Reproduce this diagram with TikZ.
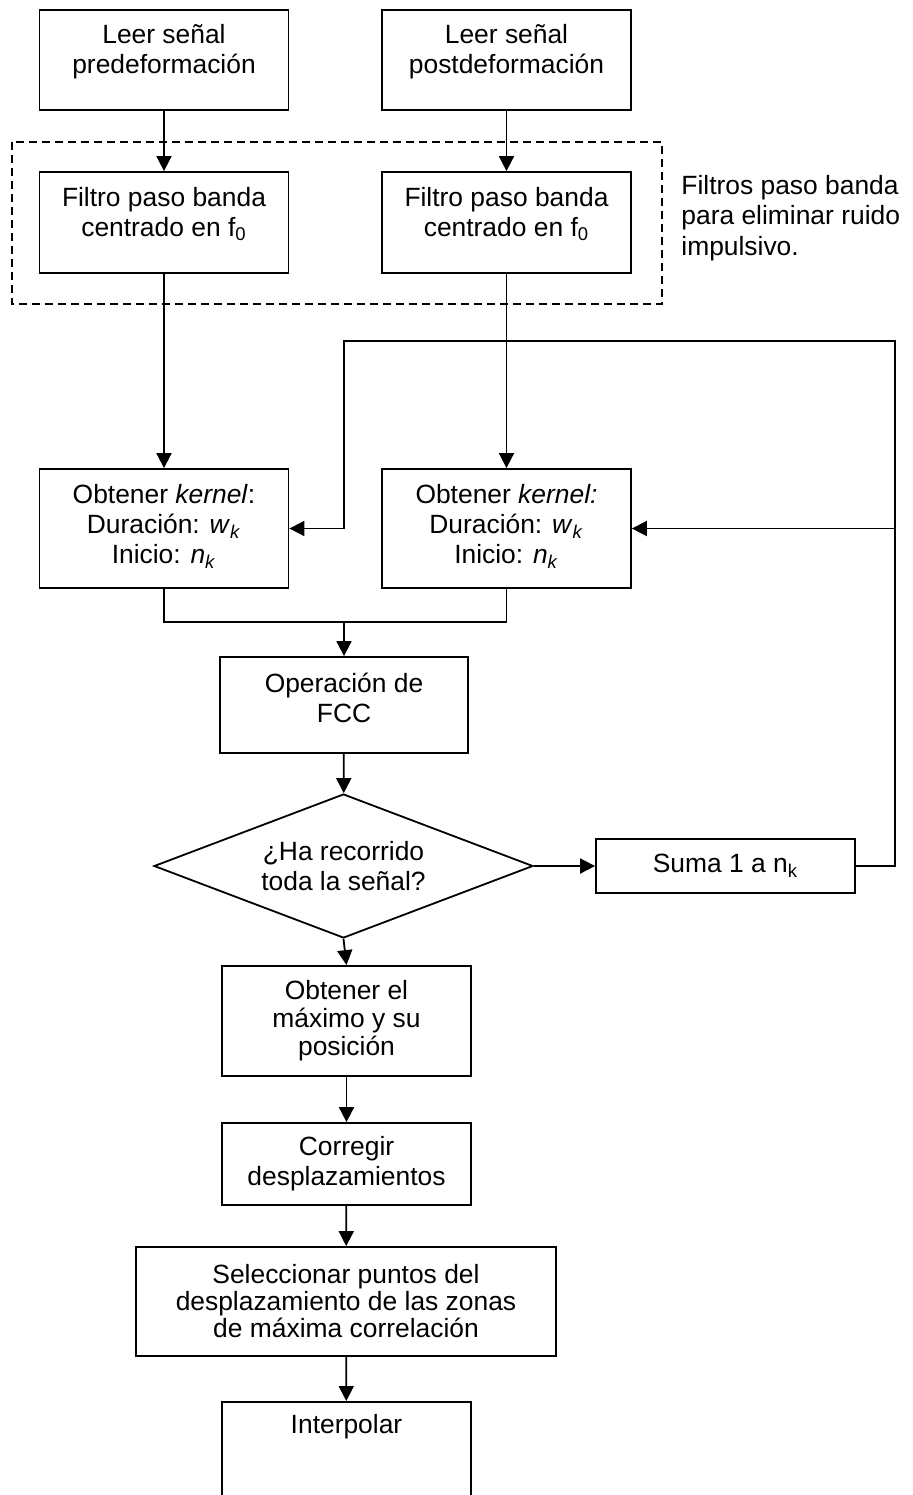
\documentclass[tikz,border=0pt]{standalone}
\usepackage{fontspec}
\setmainfont{Liberation Sans}
\usetikzlibrary{arrows.meta,shapes.geometric}
\begin{document}
\begin{tikzpicture}[x=0.5pt,y=-0.5pt,
  every node/.style={font=\fontsize{13.2}{15}\selectfont},
  box/.style={draw, line width=0.9pt, inner sep=0pt, minimum width=124.5pt},
  lab/.style={align=center, inner sep=0pt},
  link/.style={line width=0.9pt},
  arr/.style={link, -{Triangle[length=7.5pt,width=7.5pt]}},
  group/.style={line width=0.9pt, dash pattern=on 4pt off 2.5pt},
]
\useasboundingbox (0,0) rectangle (913,1495);

% reading the two signals
\node[box, minimum height=50pt, label={[lab,yshift=4pt]center:Leer señal\\predeformación}] (b1) at (164,60) {};
\node[box, minimum height=50pt, label={[lab,yshift=4pt]center:Leer señal\\postdeformación}] (b2) at (506.5,60) {};

% band-pass filters
\draw[group] (12,142) rectangle (662,304);
\node[box, minimum height=50.5pt, label={[lab,yshift=4.25pt]center:Filtro paso banda\\centrado en f\textsubscript{0}}] (f1) at (164,222.5) {};
\node[box, minimum height=50.5pt, label={[lab,yshift=4.25pt]center:Filtro paso banda\\centrado en f\textsubscript{0}}] (f2) at (506.5,222.5) {};
\node[lab, align=left, anchor=west, font=\fontsize{13.2}{15.25}\selectfont] (note) at (681,218)
  {Filtros paso banda\\para eliminar ruido\\impulsivo.};

% kernels
\node[box, minimum height=59.5pt, label={[lab,yshift=1.25pt]center:Obtener \textit{kernel}:\\Duración: \textit{w}\textsubscript{\textit{k}}\\Inicio: \textit{n}\textsubscript{\textit{k}}}] (k1) at (164,528.5) {};
\node[box, minimum height=59.5pt, label={[lab,yshift=1.25pt]center:Obtener \textit{kernel:}\\Duración: \textit{w}\textsubscript{\textit{k}}\\Inicio: \textit{n}\textsubscript{\textit{k}}}] (k2) at (506.5,528.5) {};

% correlation loop
\node[box, minimum width=124pt, minimum height=48pt, label={[lab,yshift=3.5pt]center:Operación de\\FCC}] (fcc) at (344,705) {};
\node[draw, line width=0.9pt, diamond, inner sep=0pt, minimum width=189.5pt, minimum height=72pt,
  label={[lab]center:¿Ha recorrido\\toda la señal?}] (dia) at (343.5,866) {};
\node[box, minimum width=129.5pt, minimum height=27pt, label={[lab]center:Suma 1 a n\textsubscript{k}}] (suma) at (725.5,866) {};

% final steps
\node[box, minimum height=55pt, label={[lab,yshift=0pt,font=\fontsize{13.2}{14}\selectfont]center:Obtener el\\máximo y su\\posición}] (obt) at (346.5,1021) {};
\node[box, minimum height=41pt, label={[lab]center:Corregir\\desplazamientos}] (corr) at (346.5,1164) {};
\node[box, minimum width=210pt, minimum height=54.5pt, label={[lab,font=\fontsize{13.2}{13.5}\selectfont]center:Seleccionar puntos del\\desplazamiento de las zonas\\de máxima correlación}] (sel) at (346,1301.5) {};
\node[box, minimum height=60pt, anchor=north, label={[lab,yshift=17.5pt]center:Interpolar}] (interp) at (346.5,1401) {};

% connectors
\draw[arr] (b1) -- (f1);
\draw[arr] (b2) -- (f2);
\draw[arr] (f1) -- (k1);
\draw[arr] (f2) -- (k2);

\coordinate (m) at (344,622);
\draw[link] (k1.south) |- (m);
\draw[link] (k2.south) |- (m);
\draw[arr] (m) -- (fcc.north);
\draw[arr] (fcc) -- (dia);
\draw[arr] (dia.east) -- (suma.west);

\coordinate (rt) at (895,341);
\coordinate (lt) at (344,341);
\coordinate (lk) at (344,528.5);
\coordinate (rk) at (895,528.5);
\draw[link] (suma.east) -| (rt) -- (lt) -- (lk);
\draw[arr] (lk) -- (k1.east);
\draw[arr] (rk) -- (k2.east);

\draw[arr] (dia.south) -- (obt.north);
\draw[arr] (obt) -- (corr);
\draw[arr] (corr) -- (sel);
\draw[arr] (sel) -- (interp);
\end{tikzpicture}
\end{document}
